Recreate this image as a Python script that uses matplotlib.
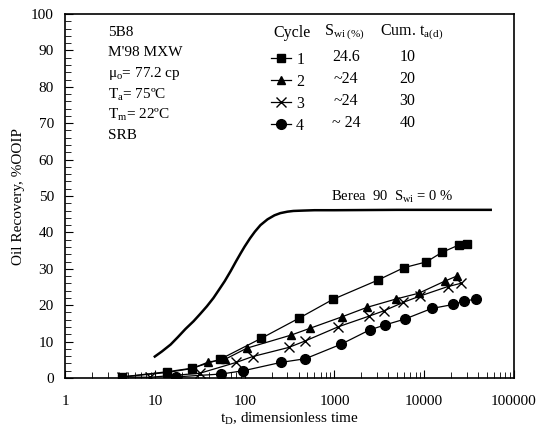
import matplotlib
matplotlib.use("Agg")
import matplotlib.pyplot as plt
from matplotlib.ticker import LogLocator, MultipleLocator, NullFormatter, FixedLocator

plt.rcParams['font.family'] = 'Liberation Serif'
plt.rcParams['mathtext.fontset'] = 'custom'
plt.rcParams['mathtext.rm'] = 'Liberation Serif'
plt.rcParams['mathtext.it'] = 'Liberation Serif:italic'
plt.rcParams['font.size'] = 11

# cycle 1..4 recovery vs dimensionless time
c1_t = [4.3, 13.5, 26, 53, 153, 401, 961, 3050, 5920, 10570, 15700, 24100, 30000]
c1_r = [0.3, 1.7, 2.7, 5.1, 10.9, 16.4, 21.6, 26.9, 30.3, 31.9, 34.5, 36.5, 36.8]
c2_t = [4.3, 13.5, 26, 39.5, 60, 106, 330, 540, 1210, 2300, 4840, 8700, 16900, 23000]
c2_r = [0.3, 1.5, 2.6, 4.4, 5.1, 8.2, 11.8, 13.7, 16.8, 19.4, 21.7, 23.3, 26.6, 28.0]
c3_t = [4.3, 8.8, 31.6, 81, 123, 310, 475, 1110, 2430, 3590, 5870, 8920, 18200, 25500]
c3_r = [0.3, 0.2, 1.3, 4.3, 5.9, 8.4, 10.2, 14.1, 17.0, 18.5, 20.8, 22.5, 25.1, 26.0]
c4_t = [17.1, 55, 97, 255, 475, 1190, 2460, 3680, 6100, 12100, 21000, 27500, 37800]
c4_r = [0.3, 1.1, 2.0, 4.3, 5.3, 9.3, 13.2, 14.6, 16.2, 19.1, 20.2, 21.1, 21.7]

# Berea 90 reference curve
berea_t = [10, 12, 15, 18, 22, 27, 32, 38, 45, 52, 60, 70, 80, 90, 100, 115, 130,
           150, 180, 215, 250, 300, 350, 450, 600, 1000, 5000, 55000]
berea_r = [5.9, 7.3, 9.2, 11.2, 13.5, 15.6, 17.6, 19.7, 22.0, 24.3, 26.6, 29.4, 32.0,
           34.2, 36.1, 38.4, 40.2, 42.0, 43.6, 44.7, 45.3, 45.7, 45.9, 46.0, 46.1, 46.1,
           46.2, 46.2]

cycles = ["1", "2", "3", "4"]
swi = ["24.6", "~24", "~24", "~ 24"]
cum_ta = ["10", "20", "30", "40"]
markers = ["s", "^", "x", "o"]
sizes = [6, 6, 6.5, 7]

fig = plt.figure(figsize=(5.4, 4.3), dpi=100)
ax = fig.add_axes([0.1204, 0.1209, 0.8315, 0.8465])

ax.plot(berea_t, berea_r, color="black", lw=1.8, solid_joinstyle="round")

handles = []
for t, r, m, s in zip([c1_t, c2_t, c3_t, c4_t], [c1_r, c2_r, c3_r, c4_r], markers, sizes):
    h, = ax.plot(t, r, color="black", lw=0.9, marker=m, ms=s, mew=1.0)
    handles.append(h)

ax.set_xscale("log")
ax.set_xlim(1, 100000)
ax.set_ylim(0, 100)
ax.xaxis.set_major_locator(FixedLocator([1, 10, 100, 1000, 10000, 100000]))
ax.xaxis.set_minor_locator(LogLocator(base=10, subs=range(2, 10)))
ax.xaxis.set_minor_formatter(NullFormatter())
ax.set_xticklabels(["1", "10", "100", "1000", "10000", "100000"])
ax.yaxis.set_major_locator(MultipleLocator(10))
ax.yaxis.set_minor_locator(MultipleLocator(2))
ax.tick_params(which="both", direction="in", top=False, right=False, labelsize=11)
ax.tick_params(axis="x", which="major", length=6, pad=12)
ax.tick_params(axis="x", which="minor", length=4)
ax.tick_params(axis="y", which="major", length=6, pad=8)
ax.tick_params(axis="y", which="minor", length=4)
for sp in ax.spines.values():
    sp.set_linewidth(1.2)

ax.set_xlabel(r"t$_\mathrm{D}$, dimensionless time", fontsize=11, labelpad=2)
ax.set_ylabel("Oil Recovery, %OOIP", fontsize=11, labelpad=4)

info = ["5B8", "M'98 MXW", r"μ$_\mathrm{o}$= 77.2 cp", r"T$_\mathrm{a}$= 75ºC",
        r"T$_\mathrm{m}$= 22ºC", "SRB"]
for i, s in enumerate(info):
    ax.text(0.095, 0.950 - i * 0.057, s, transform=ax.transAxes, fontsize=11, va="center")

leg = ax.legend(handles, cycles, loc="upper left", bbox_to_anchor=(0.458, 0.897),
                frameon=False, handlelength=1.25, handletextpad=0.35, labelspacing=0.38,
                borderpad=0, borderaxespad=0, fontsize=11.5)

ax.text(0.506, 0.948, "Cycle", transform=ax.transAxes, fontsize=11.5, ha="center", va="center")
ax.text(0.576, 0.948, r"S$_\mathrm{wi\ (\%)}$", transform=ax.transAxes, fontsize=11.5,
        ha="left", va="center")
ax.text(0.702, 0.948, r"Cum. t$_\mathrm{a(d)}$", transform=ax.transAxes, fontsize=11.5,
        ha="left", va="center")
for i in range(4):
    y = 0.882 - i * 0.0605
    ax.text(0.626, y, swi[i], transform=ax.transAxes, fontsize=11.5, ha="center", va="center")
    ax.text(0.763, y, cum_ta[i], transform=ax.transAxes, fontsize=11.5, ha="center", va="center")

ax.text(0.728, 0.497, r"Berea  90  S$_\mathrm{wi}$ = 0 %", transform=ax.transAxes,
        fontsize=10.5, ha="center", va="center")

fig.savefig("out.png", dpi=100)
